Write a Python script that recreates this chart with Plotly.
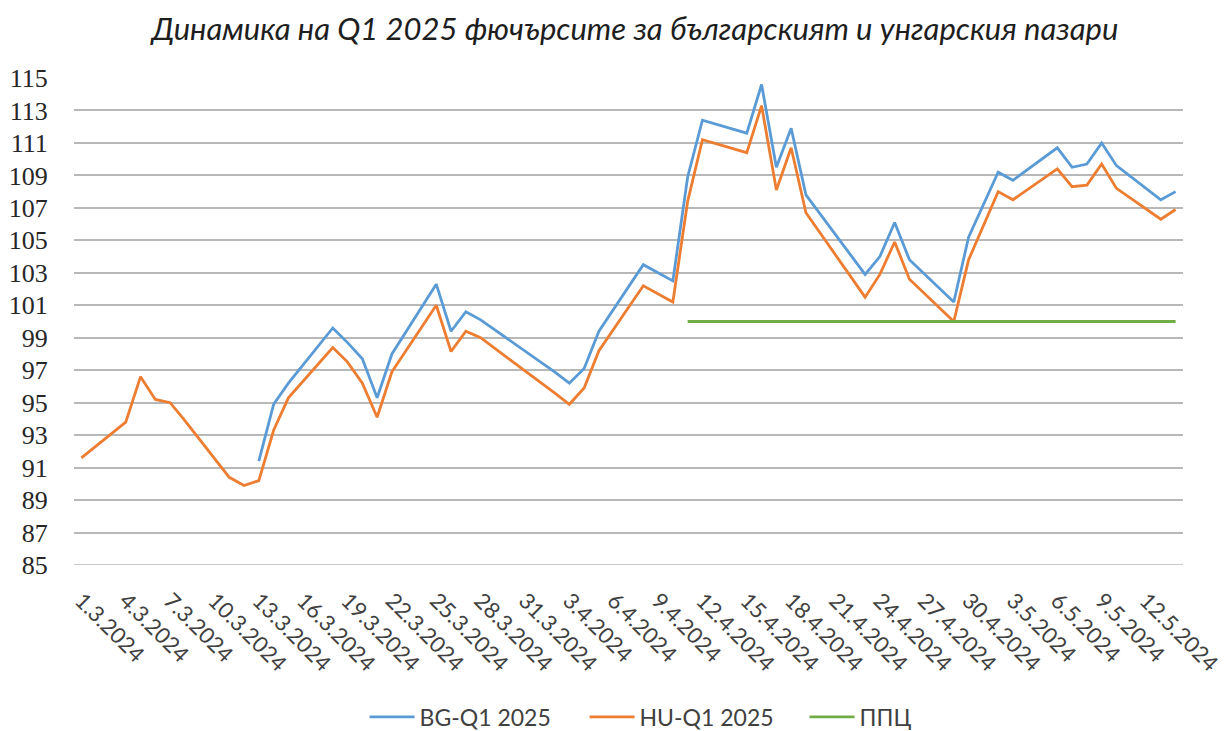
import plotly.graph_objects as go
from datetime import date, timedelta

# Trading dates
dates = [
    "2024-03-01", "2024-03-04", "2024-03-05", "2024-03-06", "2024-03-07", "2024-03-08",
    "2024-03-11", "2024-03-12", "2024-03-13", "2024-03-14", "2024-03-15",
    "2024-03-18", "2024-03-19", "2024-03-20", "2024-03-21", "2024-03-22",
    "2024-03-25", "2024-03-26", "2024-03-27", "2024-03-28",
    "2024-04-02", "2024-04-03", "2024-04-04", "2024-04-05",
    "2024-04-08", "2024-04-09", "2024-04-10", "2024-04-11", "2024-04-12",
    "2024-04-15", "2024-04-16", "2024-04-17", "2024-04-18", "2024-04-19",
    "2024-04-22", "2024-04-23", "2024-04-24", "2024-04-25", "2024-04-26",
    "2024-04-29", "2024-04-30", "2024-05-02", "2024-05-03",
    "2024-05-06", "2024-05-07", "2024-05-08", "2024-05-09", "2024-05-10",
    "2024-05-13", "2024-05-14",
]

bg_q1_2025 = [
    None, None, None, None, None, None,
    None, None, 91.4, 94.9, 96.2,
    99.6, 98.7, 97.7, 95.3, 98.0,
    102.3, 99.4, 100.6, 100.1,
    96.9, 96.2, 97.1, 99.4,
    103.5, 103.0, 102.5, 108.9, 112.4,
    111.6, 114.6, 109.5, 111.9, 107.8,
    104.1, 102.9, 104.0, 106.1, 103.8,
    101.2, 105.2, 109.2, 108.7,
    110.7, 109.5, 109.7, 111.0, 109.6,
    107.5, 108.0,
]

hu_q1_2025 = [
    91.6, 93.8, 96.6, 95.2, 95.0, 93.9,
    90.4, 89.9, 90.2, 93.3, 95.3,
    98.4, 97.5, 96.2, 94.1, 96.9,
    101.0, 98.15, 99.4, 99.0,
    95.6, 94.9, 95.9, 98.2,
    102.2, 101.7, 101.2, 107.4, 111.2,
    110.4, 113.3, 108.1, 110.7, 106.7,
    102.8, 101.5, 102.9, 104.9, 102.6,
    100.0, 103.8, 108.0, 107.5,
    109.4, 108.3, 108.4, 109.7, 108.2,
    106.3, 106.9,
]

ppc_start = "2024-04-11"
ppc_value = 100
ppc = [ppc_value if d >= ppc_start else None for d in dates]

# x tick labels: every 3 days from 1.3.2024 to 12.5.2024
tick_dates = []
d = date(2024, 3, 1)
while d <= date(2024, 5, 12):
    tick_dates.append(d)
    d += timedelta(days=3)
tick_vals = [t.isoformat() for t in tick_dates]
tick_text = [f"{t.day}.{t.month}.{t.year}" for t in tick_dates]

y_min, y_max = 85, 115
y_ticks = list(range(y_min, y_max + 1, 2))

BLUE = "#5B9BD5"
ORANGE = "#ED7D31"
GREEN = "#70AD47"
GRID = "#B8B8B8"

fig = go.Figure()
fig.add_trace(go.Scatter(x=dates, y=bg_q1_2025, name="BG-Q1 2025", mode="lines",
                         line=dict(color=BLUE, width=2.8)))
fig.add_trace(go.Scatter(x=dates, y=hu_q1_2025, name="HU-Q1 2025", mode="lines",
                         line=dict(color=ORANGE, width=2.8)))
fig.add_trace(go.Scatter(x=dates, y=ppc, name="ППЦ", mode="lines",
                         line=dict(color=GREEN, width=2.8)))

# bottom gridline (plotly omits the grid line lying on the plot edge)
fig.add_shape(type="line", xref="paper", x0=0, x1=1, yref="y", y0=y_min, y1=y_min,
              line=dict(color=GRID, width=1.5), layer="below")

fig.update_layout(
    width=1226, height=731,
    paper_bgcolor="white", plot_bgcolor="white",
    margin=dict(l=74, r=43, t=78, b=166, autoexpand=False),
    title=dict(
        text="<i>Динамика на Q1 2025 фючърсите за българският и унгарския пазари</i>",
        x=0.518, xanchor="center", y=0.96, yanchor="middle",
        font=dict(family="Lato", size=31, color="#1E1E1E"),
    ),
    showlegend=True,
    legend=dict(orientation="h", x=0.262, xanchor="left", y=-0.312, yanchor="middle",
                font=dict(family="Lato", size=23, color="#404040"),
                itemwidth=45, entrywidth=160, entrywidthmode="pixels",
                traceorder="normal"),
    xaxis=dict(
        type="date", automargin=False,
        range=["2024-02-29 12:00", "2024-05-14 12:00"],
        tickvals=tick_vals, ticktext=tick_text, tickangle=45,
        ticklabeloverflow="allow",
        showgrid=False, zeroline=False, showline=False,
        ticks="outside", ticklen=13, tickcolor="rgba(0,0,0,0)",
        tickfont=dict(family="Lato", size=22, color="#404040"),
    ),
    yaxis=dict(
        automargin=False,
        range=[y_min, y_max], tickvals=y_ticks,
        showgrid=True, gridcolor=GRID, gridwidth=1.5,
        zeroline=False, showline=False,
        ticks="outside", ticklen=20, tickcolor="rgba(0,0,0,0)",
        tickfont=dict(family="Liberation Serif", size=26, color="#262626"),
    ),
)

# remove the default page margin so the figure fills the window exactly
fig.write_html("out.html", config={"displayModeBar": False},
               post_script="document.body.style.margin='0';")
